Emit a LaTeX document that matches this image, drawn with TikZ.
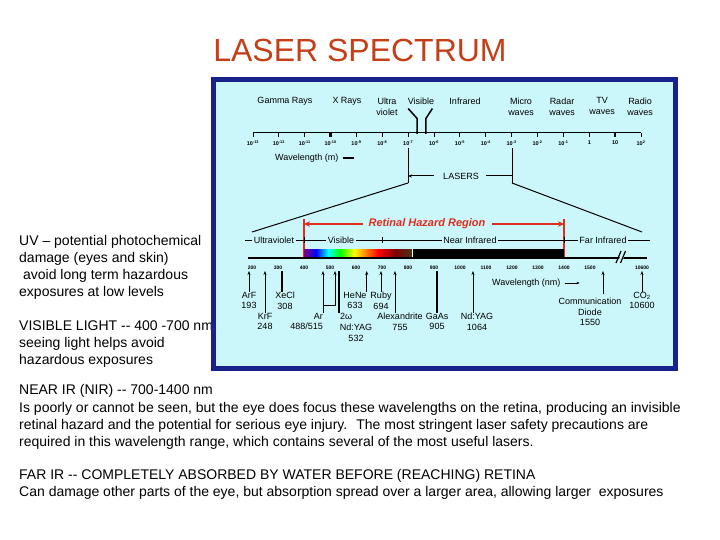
\documentclass[tikz,border=0pt]{standalone}
\usepackage{fontspec}
\setmainfont{Liberation Sans}
\usetikzlibrary{arrows.meta}
\definecolor{panelfill}{RGB}{204,247,250}
\definecolor{panelrim}{RGB}{24,34,138}
\definecolor{titlered}{RGB}{196,62,24}
\definecolor{hazardred}{RGB}{222,44,30}
\tikzset{
    note/.style={anchor=base west, inner sep=0pt, font=\fontsize{14}{17}\selectfont},
    band/.style={anchor=north, inner sep=0pt, align=center, font=\fontsize{9}{11}\selectfont},
    laser/.style={anchor=north, inner sep=0pt, align=center, font=\fontsize{9}{10.5}\selectfont},
    region/.style={fill=panelfill, inner xsep=1.5pt, inner ysep=1pt, font=\fontsize{9}{11}\selectfont},
    mfont/.style={inner sep=0pt, font=\fontsize{5.5}{6}\selectfont\bfseries},
    nmfont/.style={inner sep=0pt, font=\fontsize{5}{6}\selectfont\bfseries},
    axisline/.style={line width=1pt},
    vline/.style={line width=1.5pt},
    lzr/.style={-{Stealth[length=4pt,width=3pt]}, line width=0.8pt},
    lzrbar/.style={line width=2.4pt},
    hazard/.style={draw=hazardred, line width=2.4pt},
}

\begin{document}
\begin{tikzpicture}[x=1pt,y=-1pt]
    \useasboundingbox (0,0) rectangle (720,540);

    \node[font=\fontsize{32}{36}\selectfont, text=titlered, anchor=base, inner sep=0pt] (title) at (360,61.5) {LASER SPECTRUM};

    % notes, one line per node
    \foreach \yy/\txt [count=\k] in {
        245/{UV \textendash{} potential photochemical},
        262/{damage (eyes and skin)},
        279/{\ avoid long term hazardous},
        296/{exposures at low levels},
        330/{VISIBLE LIGHT -{}- 400 -700 nm},
        347/{seeing light helps avoid},
        364/{hazardous exposures},
        394/{NEAR IR (NIR) -{}- 700-1400 nm},
        412/{Is poorly or cannot be seen, but the eye does focus these wavelengths on the retina, producing an invisible},
        429/{retinal hazard and the potential for serious eye injury.~ The most stringent laser safety precautions are},
        446/{required in this wavelength range, which contains several of the most useful lasers.},
        479/{FAR IR -{}- COMPLETELY ABSORBED BY WATER BEFORE (REACHING) RETINA},
        496/{Can damage other parts of the eye, but absorption spread over a larger area, allowing larger~ exposures}}
        \node[note] (note\k) at (19,\yy) {\txt};

    % panel
    \draw[line width=5pt, draw=panelrim, fill=panelfill] (213.5,79.5) rectangle (675.5,368.5);

    % electromagnetic spectrum
    \foreach \lbl/\xx [count=\k] in {Gamma Rays/285, X Rays/347, Ultra\\violet/387, Visible/421, Infrared/465,
        Micro\\waves/521, Radar\\waves/562, TV\\waves/602, Radio\\waves/640}
        \node[band] (em\k) at (\xx,97.5) {\lbl};
    \draw[vline] (em4.south west) ++(0.5,4) -- ++(9,10) -- ++(0,15.3);
    \draw[vline] (em4.south east) ++(-2,4) -- ++(-6.5,10) -- ++(0,15.3);

    \draw[axisline] (253,133) coordinate (mleft) -- (641,133) coordinate (mright);
    \foreach \lbl [count=\k from 0] in {10\textsuperscript{-13}, 10\textsuperscript{-12}, 10\textsuperscript{-11},
        10\textsuperscript{-10}, 10\textsuperscript{-9}, 10\textsuperscript{-8}, 10\textsuperscript{-7},
        10\textsuperscript{-6}, 10\textsuperscript{-5}, 10\textsuperscript{-4}, 10\textsuperscript{-3},
        10\textsuperscript{-2}, 10\textsuperscript{-1}, 1, 10, 10\textsuperscript{2}} {
        \draw[axisline] ({253+25.87*\k},133) -- ++(0,4);
        \node[mfont] (m\k) at ({253+25.87*\k},143) {\lbl};
    }
    \foreach \k in {3,14}
        \draw[line width=2.6pt] ({253+25.87*\k},133) -- ++(0,4);
    \node[band, anchor=west] (wlm) at (275,158) {Wavelength (m)};
    \draw[line width=2pt] (wlm.east) ++(4,0) -- ++(11,0);

    % lasers bracket
    \coordinate (lasl) at (408,183);
    \coordinate (lasr) at (512,183);
    \draw[axisline] (lasl) -- ++(0,-35);
    \draw[axisline] (lasr) -- ++(0,-35);
    \node[band, anchor=center] (lasers) at (461,176) {LASERS};
    \draw[axisline, -{Stealth[length=4pt,width=3.2pt]}] (lasers.west) ++(-9,0) -- (lasers.west -| lasl);
    \draw[axisline] (lasers.east) ++(7,0) -- (lasers.east -| lasr);
    \draw[axisline] (lasl) -- (252,232) coordinate (fanl);
    \draw[axisline] (lasr) -- (642,232) coordinate (fanr);

    % retinal hazard region
    \coordinate (v400) at (304,258);
    \coordinate (v1400) at (564,258);
    \draw[hazard] (v400) -- ++(0,-39);
    \draw[hazard] (v1400) -- ++(0,-39);
    \node[font=\fontsize{11}{13}\selectfont\bfseries\itshape, text=hazardred, inner sep=0pt] (rhr) at (427,224) {Retinal Hazard Region};
    \draw[hazard, -{Stealth[length=6pt,width=5.5pt]}] (rhr.west) ++(-5,0) -- (rhr.west -| v400);
    \draw[hazard, -{Stealth[length=6pt,width=5.5pt]}] (rhr.east) ++(6,0) -- (rhr.east -| v1400);

    \draw[axisline] (245,240) -- (650,240);
    \foreach \xx in {304,382,564}
        \draw[axisline] (\xx,237) -- (\xx,243);
    \foreach \lbl/\xx [count=\k] in {Ultraviolet/274, Visible/341, Near Infrared/470, Far Infrared/603}
        \node[region] (reg\k) at (\xx,240) {\lbl};

    % colour bar
    \foreach \xa/\xb/\ca/\cb in {304/316/violet/blue, 316/328/blue/cyan, 328/340/cyan/green,
        340/354/green/yellow, 354/366/yellow/orange, 366/378/orange/red,
        378/395/red/red!50!black, 395/412/red!50!black/brown!40!black}
        \shade[left color=\ca, right color=\cb] (\xa,249) rectangle (\xb+0.3,256.5);
    \fill[white] (412,249) rectangle (413.2,256.5);
    \fill[black] (413.2,249) rectangle (564,256.5);

    % wavelength axis in nm
    \draw[line width=2.5pt] (248,258) coordinate (nml) -- (647,258) coordinate (nmr);
    \fill[panelfill] (617.5,262) -- (621.5,262) -- (626,253) -- (622,253) -- cycle;
    \draw[line width=1.2pt] (616,263) -- (621,251);
    \draw[line width=1.2pt] (620.5,263) -- (625.5,251);
    \foreach \w in {200,300,...,1500}
        \node[nmfont] (nm\w) at ({304+0.26*(\w-400)},268) {\w};
    \node[nmfont] (nm10600) at (642,268) {10600};
    \coordinate (nmtop) at (0,271);
    \node[band, anchor=west] (wlnm) at (492,283) {Wavelength (nm)};
    \draw[axisline, -{Stealth[length=3pt,width=2.5pt]}] (wlnm.east) ++(4,0) -- ++(15,0);

    % lasers
    \node[laser] (arf) at (249,292) {ArF\\193};
    \node[laser] (krf) at (265,313) {KrF\\248};
    \node[laser] (xecl) at (285,292) {XeCl\\308};
    \node[laser, align=right, anchor=north east] (ar) at (323,313) {Ar\\488/515};
    \node[laser, anchor=north west] (shg) at (340,313) {2ω};
    \node[laser] (ndyagg) at (356,324) {Nd:YAG\\532};
    \node[laser] (hene) at (355,292) {HeNe\\633};
    \node[laser] (ruby) at (381,292) {Ruby\\694};
    \node[laser] (alex) at (400,313) {Alexandrite\\755};
    \node[laser] (gaas) at (437,313) {GaAs\\905};
    \node[laser] (ndyag) at (477,313) {Nd:YAG\\1064};
    \node[laser] (comm) at (590,298) {Communication\\Diode\\1550};
    \node[laser] (co2) at (642,292) {CO\textsubscript{2}\\10600};

    \draw[lzr] (arf.north) -- (arf.north |- nmtop);
    \draw[lzr] (krf.north) -- (krf.north |- nmtop);
    \draw[lzrbar] ([xshift=-3pt]xecl.north) -- ([xshift=-3pt]xecl.north |- nmtop);
    \draw[lzr] (ar.north east) -- (ar.north east |- nmtop);
    \draw[lzr] (ar.north east) ++(0,-8) -- ++(12,0) coordinate (arb) -- (arb |- nmtop);
    \draw[lzrbar] ([xshift=-1pt]shg.north west) -- ([xshift=-1pt]shg.north west |- nmtop);
    \draw[lzr] (hene.north east) -- (hene.north east |- nmtop);
    \draw[lzr] (ruby.north) -- (ruby.north |- nmtop);
    \draw[lzr] ([xshift=-5pt]alex.north) -- ([xshift=-5pt]alex.north |- nmtop);
    \draw[lzrbar] (gaas.north) -- (gaas.north |- nmtop);
    \draw[lzr] ([xshift=-4pt]ndyag.north) -- ([xshift=-4pt]ndyag.north |- nmtop);
    \draw[lzr] ([xshift=13pt,yshift=4pt]comm.north) -- ([xshift=13pt]comm.north |- nmtop);
    \draw[lzr] (co2.north) -- (co2.north |- nmtop);
\end{tikzpicture}
\end{document}
